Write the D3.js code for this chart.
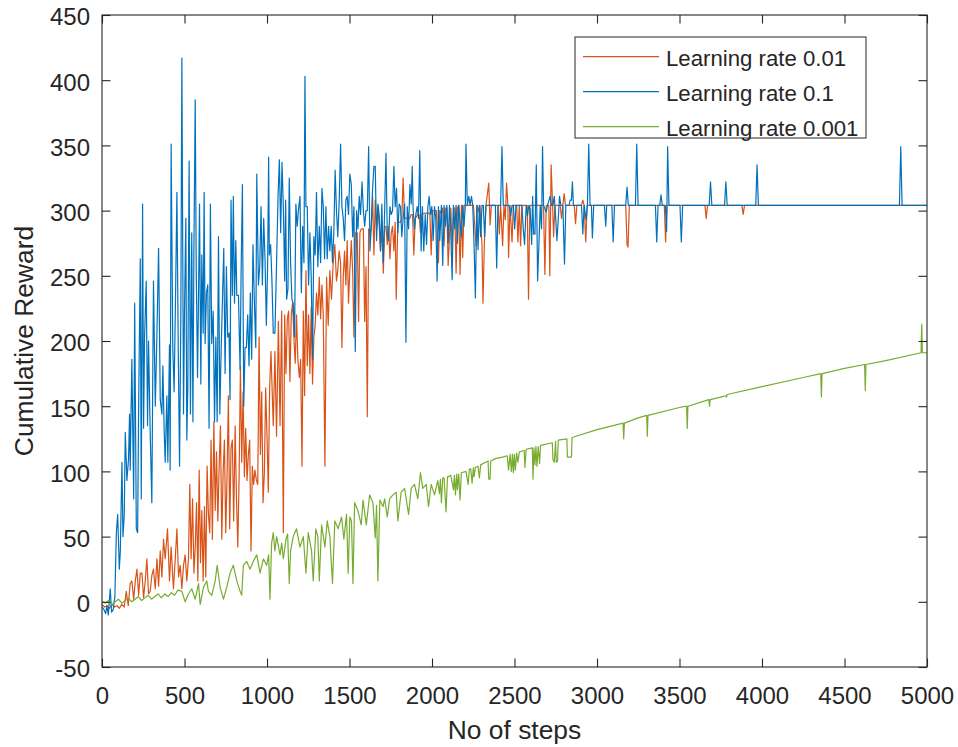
<!DOCTYPE html>
<html>
<head>
<meta charset="utf-8">
<script src="https://cdn.jsdelivr.net/npm/d3@7"></script>
<style>
  body { margin: 0; background: #ffffff; }
  svg { display: block; }
  text { font-family: "Liberation Sans", Arial, Helvetica, sans-serif; fill: #262626; }
</style>
</head>
<body>
<svg id="chart" width="958" height="747"></svg>
<script>
// Legend entries, in plotting order
const seriesLabels = ["Learning rate 0.01", "Learning rate 0.1", "Learning rate 0.001"];
const seriesColors = ["#D95319", "#0072BD", "#77AC30"];

const xTicks = [0, 500, 1000, 1500, 2000, 2500, 3000, 3500, 4000, 4500, 5000];
const yTicks = [-50, 0, 50, 100, 150, 200, 250, 300, 350, 400, 450];

// Cumulative reward per training step: [step, reward]
const rewardLr001 = [
  [0,-2],[15,-4],[30,-3],[45,-5],[60,-2],[75,-4],[90,-3],[105,-5],[120,-2],[135,-4],[147,8],[159,-3],[171,14],[181,16],[192,2],[202,16],[212,25],[222,5],[232,22],[242,22],[252,3],[262,16],[272,33],[282,6],[292,8],[302,20],[312,25],[323,10],[333,33],[343,12],[353,39],[363,19],[373,48],[383,33],[397,56],[409,16],[419,42],[433,10],[444,33],[454,56],[464,19],[474,28],[484,10],[494,28],[504,36],[514,16],[524,33],[532,90],[540,33],[549,79],[557,22],[565,42],[573,76],[581,16],[589,101],[597,30],[605,70],[613,16],[621,73],[629,19],[637,104],[645,67],[653,53],[661,124],[669,48],[678,138],[686,70],[694,115],[702,62],[710,104],[718,135],[726,48],[734,99],[742,124],[750,53],[758,96],[766,158],[774,56],[782,118],[790,124],[798,62],[807,135],[815,79],[823,42],[831,96],[839,181],[847,107],[855,161],[863,96],[871,133],[879,93],[887,113],[895,124],[903,39],[911,104],[919,90],[927,101],[936,93],[944,90],[952,203],[960,113],[968,161],[976,76],[984,99],[992,164],[1000,127],[1008,84],[1016,164],[1024,192],
  [1038,135],[1048,192],[1058,127],[1069,215],[1079,135],[1089,223],[1099,53],[1107,220],[1115,175],[1123,217],[1131,223],[1139,169],[1147,220],[1155,229],[1163,203],[1171,183],[1179,220],[1187,186],[1196,172],[1204,186],[1212,104],[1220,223],[1228,158],[1236,254],[1244,181],[1252,220],[1260,175],[1268,226],[1276,167],[1284,203],[1292,212],[1300,237],[1308,220],[1317,249],[1325,217],[1333,243],[1341,220],[1351,104],[1361,249],[1371,212],[1381,254],[1391,232],[1401,260],[1411,274],[1421,246],[1429,254],[1437,269],[1446,260],[1454,195],[1462,249],[1470,269],[1478,243],[1486,277],[1494,229],[1502,254],[1511,277],
  [1519,254],[1527,203],[1535,283],[1547,283],[1555,215],[1563,283],[1571,286],[1584,286],[1592,215],[1600,257],[1608,142],[1616,286],[1624,283],[1632,286],[1640,311],[1648,266],[1656,308],[1664,286],[1672,303],[1680,288],[1688,269],[1696,288],[1705,252],[1713,288],[1721,288],[1729,274],[1737,288],[1745,263],[1753,283],[1761,288],[1769,269],[1777,291],[1783,232],[1793,291],[1809,291],[1817,294],[1825,325],[1834,294],[1850,294],[1866,294],[1874,297],[1882,297],[1890,266],[1898,294],[1914,297],[1922,297],[1930,283],[1938,297],[1955,298],[1987,298],[1995,266],[2003,300],[2027,300],[2039,260],[2047,300],
  [2057,298],[2065,302],[2073,273],[2081,302],[2090,302],[2098,258],[2106,280],[2114,302],[2122,270],[2130,302],[2138,302],[2146,252],[2154,302],[2162,304],[2170,251],[2178,304],[2186,264],[2194,304],[2251,304],[2267,273],[2275,304],[2283,299],[2291,304],[2303,273],[2309,229],[2317,273],[2327,304],[2344,321],[2352,289],[2360,304],[2400,304],[2408,282],[2416,304],[2428,273],[2436,304],[2444,293],[2452,321],[2460,304],[2464,264],[2473,304],[2485,276],[2493,304],[2513,304],[2521,276],[2529,304],[2537,273],[2545,304],[2577,304],[2585,232],[2593,304],[2676,304],[2684,251],[2692,304],[2708,304],[2714,250],[2722,335],[2731,304],[2737,280],[2745,304],[2777,304],[2785,294],[2793,304],[2801,313],[2809,304],[2862,304],[2870,290],[2878,304],[2906,304],[2914,308],[2922,304],[2932,276],[2940,304],[3174,304],[3182,274],[3188,272],[3196,304],[3408,304],[3416,276],[3424,304],[3654,304],[3662,294],[3670,304],[3878,304],[3886,297],[3894,304],[5000,304]
];

const rewardLr01 = [
  [0,-4],[12,-6],[22,-9],[30,-3],[38,-10],[50,10],[58,-8],[68,-6],[78,4],
  [87,53],[95,67],[105,25],[111,39],[121,107],[127,50],[135,67],[141,130],[151,93],[161,110],[167,144],[171,101],[181,186],[192,79],[198,229],[208,56],[216,53],[222,150],[232,263],[238,79],[246,305],[252,133],[258,203],[268,246],[276,135],[282,200],[292,130],[302,76],[312,246],[323,150],[333,206],[343,271],[353,155],[363,144],[369,181],[377,130],[383,107],[393,158],[399,107],[409,197],[413,101],[419,351],[429,195],[437,161],[446,237],[454,314],[462,195],[470,104],[478,223],[484,417],
  [494,144],[500,223],[508,294],[514,124],[520,164],[528,338],[536,144],[544,283],[551,138],[557,269],[565,385],[571,257],[579,172],[585,235],[591,305],[599,167],[605,266],[613,206],[619,314],[625,198],[633,237],[641,243],[649,133],[657,305],[665,198],[674,223],[682,138],[690,203],[698,138],[706,280],[714,144],[722,192],[730,232],[738,271],[746,175],[754,257],[762,203],[770,206],[776,155],[782,308],[790,235],[796,311],[803,229],[811,277],[817,235],[827,235],[837,178],[843,252],[851,320],[859,150],[867,195],[875,195],[883,220],[891,181],[899,237],[907,186],[915,274],[923,232],[932,195],[938,328],[948,243],[956,257],[964,303],[972,243],[980,294],[988,263],[996,212],[1004,260],[1010,341],
  [1014,266],[1022,274],[1030,246],[1038,206],[1048,206],[1058,260],[1067,311],[1075,339],[1083,283],[1091,337],[1099,303],[1107,246],[1113,308],[1119,232],[1127,240],[1135,325],[1143,260],[1151,232],[1159,229],[1167,203],[1175,305],[1183,288],[1190,300],[1200,311],[1208,237],[1216,288],[1224,260],[1230,403],[1236,303],[1244,303],[1252,243],[1260,283],[1268,249],[1276,186],[1284,280],[1292,266],[1300,314],[1308,257],[1317,288],[1325,260],[1333,317],[1341,303],[1349,263],[1357,303],[1365,263],[1373,288],[1381,269],[1389,288],[1397,260],[1405,283],[1413,331],[1421,300],[1429,280],[1437,305],[1446,351],[1454,303],[1462,294],[1470,277],[1478,308],[1486,311],[1494,297],[1502,328],[1511,320],
  [1519,280],[1527,303],[1535,192],[1543,300],[1551,286],[1559,311],[1567,297],[1576,322],[1584,300],[1592,288],[1600,300],[1608,300],[1616,349],[1624,269],[1632,288],[1640,317],[1648,334],[1656,334],[1664,277],[1672,305],[1680,297],[1688,269],[1696,305],[1705,260],[1713,300],[1721,344],[1729,283],[1737,277],[1745,303],[1753,297],[1761,300],[1769,334],[1777,303],[1785,317],[1793,283],[1801,305],[1809,303],[1817,280],[1825,294],[1834,305],[1842,199],[1850,303],[1858,286],[1866,320],[1874,305],[1880,334],[1886,300],[1894,286],[1902,297],[1910,303],[1918,294],[1926,346],[1934,269],[1942,303],[1950,269],[1959,297],[1967,274],[1975,303],[1983,311],[1991,297],[1999,303],[2007,277],[2015,303],[2023,294],[2031,246],[2039,303],[2047,277],
  [2057,304],[2065,258],[2073,304],[2081,288],[2090,304],[2098,275],[2106,304],[2114,283],[2122,247],[2130,304],[2138,286],[2146,304],[2154,275],[2162,304],[2170,291],[2178,280],[2186,304],[2194,288],[2202,304],[2206,351],[2214,304],[2223,311],[2231,304],[2239,311],[2247,304],[2255,273],[2263,233],[2271,304],[2279,270],[2287,304],[2295,280],[2303,304],[2311,304],[2319,280],[2327,304],[2384,304],[2392,256],[2400,304],[2416,304],[2424,349],[2432,304],[2468,304],[2477,296],[2485,304],[2493,304],[2501,286],[2509,304],[2545,304],[2553,286],[2561,274],
  [2571,304],[2579,296],[2587,304],[2595,301],[2604,274],[2610,311],[2616,282],[2624,282],[2632,335],[2640,246],[2648,274],[2656,304],[2664,286],[2670,349],[2676,304],[2692,299],[2700,304],[2716,311],[2724,304],[2733,304],[2741,311],[2749,296],[2757,277],[2765,293],[2773,311],[2781,304],[2793,304],[2803,259],[2811,304],[2831,304],[2837,308],[2845,308],[2851,322],[2857,304],[2906,304],[2914,282],[2922,304],[2934,293],[2942,304],[2950,351],[2958,304],[2966,304],[2972,279],[2980,304],[3045,304],[3053,288],[3059,304],[3090,304],[3098,276],[3106,304],[3174,304],[3182,318],[3190,304],[3233,304],[3241,351],[3249,304],[3354,304],[3362,276],[3370,304],[3380,304],[3388,312],[3396,304],[3414,304],[3422,284],[3428,349],[3436,304],[3503,304],[3511,276],[3519,304],[3680,304],[3688,322],[3696,304],[3773,304],[3781,322],[3789,304],[3962,304],[3970,335],[3978,304],[4833,304],[4841,349],[4849,304],[5000,304]
];

const rewardLr0001 = [
  [0,0],[20,-1],[40,1],[60,-2],[80,0],[100,2],[120,-1],[140,1],[160,3],[180,0],[200,2],[220,4],[240,1],[260,3],[280,5],[300,2],[320,4],[340,6],[360,3],[380,6],[400,4],[420,7],[440,5],[460,9],[484,8],[504,0],[524,6],[544,10],[565,2],[585,14],[595,-2],[615,11],[635,16],[645,8],[665,5],[686,16],[698,28],[716,11],[736,2],[756,11],[776,22],[796,28],[817,16],[837,8],[847,5],[857,28],[877,31],[897,25],[917,31],[938,36],[958,22],[978,33],[998,28],[1010,36],[1018,2],[1028,45],[1038,53],[1048,39],[1058,50],[1079,36],[1089,45],[1099,33],[1115,48],[1125,52],[1135,14],[1143,39],[1159,50],[1179,56],[1200,42],[1220,50],[1236,22],[1250,53],[1270,39],[1280,16],[1296,56],[1308,50],[1317,16],[1331,59],[1351,42],[1365,62],[1381,50],[1397,14],[1411,62],[1431,56],[1452,65],[1466,48],[1482,67],[1492,22],[1502,65],[1512,62],[1521,14],[1531,76],[1551,70],[1571,59],[1582,78],[1602,59],[1622,82],[1642,76],[1656,49],[1664,74],[1672,16],[1684,78],[1703,73],[1713,79],[1729,65],[1743,79],[1763,82],[1783,84],[1793,62],[1813,84],[1834,87],[1858,67],[1874,87],[1894,90],[1914,79],[1930,99],[1944,87],[1965,90],[1979,73],[1995,90],[2015,82],[2035,93],[2045,83],[2051,94],[2057,76],[2065,95],[2073,95],[2085,69],[2094,96],[2102,96],[2114,97],[2130,86],[2136,97],[2142,82],[2150,98],[2154,86],[2162,98],[2170,78],[2178,99],[2206,100],[2219,90],[2227,102],[2235,102],[2243,91],[2251,103],[2255,96],[2263,103],[2279,104],[2287,95],[2295,105],[2340,108],[2344,94],[2352,94],[2356,108],[2388,110],[2428,111],[2456,112],[2464,101],[2473,113],[2481,100],[2487,113],[2493,99],[2499,113],[2505,101],[2513,114],[2521,107],[2529,115],[2559,116],[2563,103],[2571,117],[2608,118],[2612,94],[2618,118],[2624,105],[2630,119],[2636,104],[2644,119],[2652,106],[2658,120],[2729,122],[2733,109],[2741,107],[2749,123],[2753,107],[2761,108],[2765,124],[2817,125],[2821,111],[2845,111],[2849,126],[3000,132],[3158,137],[3162,125],[3166,137],[3250,141],[3301,143],[3305,127],[3309,143],[3500,149],[3543,150],[3547,133],[3551,150],[3678,155],[3682,150],[3686,155],[3750,157],[3781,158],[3785,157],[3789,159],[4000,165],[4250,172],[4356,175],[4360,157],[4364,175],[4500,179],[4622,182],[4626,162],[4630,182],[4750,185],[4964,191],[4968,213],[4972,191],[5000,191]
];

const seriesData = [rewardLr001, rewardLr01, rewardLr0001];

const svg = d3.select("#chart");
const plot = { left: 102, right: 927, top: 15, bottom: 667 };
const ink = "#262626";

svg.append("rect").attr("width", 958).attr("height", 747).attr("fill", "#ffffff");

const x = d3.scaleLinear().domain([0, 5000]).range([plot.left, plot.right]);
const y = d3.scaleLinear().domain([-50, 450]).range([plot.bottom, plot.top]);

// Data lines
const line = d3.line().x(d => x(d[0])).y(d => y(d[1]));
svg.append("g")
  .selectAll("path")
  .data(seriesData)
  .join("path")
  .attr("d", line)
  .attr("fill", "none")
  .attr("stroke", (d, i) => seriesColors[i])
  .attr("stroke-width", 1.2)
  .attr("stroke-linejoin", "round");

// Axes: ticks point inward on all four sides
const tickLen = 8.5;
const plainNumber = d => String(d);
function styleAxis(g) {
  g.select(".domain").remove();
  g.selectAll(".tick line").attr("stroke", ink).attr("stroke-width", 1.1);
  g.selectAll(".tick text").attr("font-size", 24).attr("fill", ink)
    .attr("font-family", '"Liberation Sans", Arial, Helvetica, sans-serif');
}

svg.append("g")
  .attr("transform", `translate(0,${plot.bottom})`)
  .call(d3.axisBottom(x).tickValues(xTicks).tickSizeInner(-tickLen).tickSizeOuter(0).tickPadding(20).tickFormat(plainNumber))
  .call(styleAxis);

svg.append("g")
  .attr("transform", `translate(0,${plot.top})`)
  .call(d3.axisTop(x).tickValues(xTicks).tickSizeInner(-tickLen).tickSizeOuter(0).tickFormat(""))
  .call(styleAxis);

svg.append("g")
  .attr("transform", `translate(${plot.left},0)`)
  .call(d3.axisLeft(y).tickValues(yTicks).tickSizeInner(-tickLen).tickSizeOuter(0).tickPadding(12).tickFormat(plainNumber))
  .call(styleAxis)
  .call(g => g.selectAll(".tick text").attr("dy", "0.41em"));

svg.append("g")
  .attr("transform", `translate(${plot.right},0)`)
  .call(d3.axisRight(y).tickValues(yTicks).tickSizeInner(-tickLen).tickSizeOuter(0).tickFormat(""))
  .call(styleAxis);

// Box
svg.append("rect")
  .attr("x", plot.left).attr("y", plot.top)
  .attr("width", plot.right - plot.left).attr("height", plot.bottom - plot.top)
  .attr("fill", "none").attr("stroke", ink).attr("stroke-width", 1.1);

// Axis titles
svg.append("text")
  .attr("x", (plot.left + plot.right) / 2).attr("y", 739)
  .attr("text-anchor", "middle").attr("font-size", 26.4)
  .text("No of steps");

svg.append("text")
  .attr("transform", `translate(33,${(plot.top + plot.bottom) / 2}) rotate(-90)`)
  .attr("text-anchor", "middle").attr("font-size", 26.4)
  .text("Cumulative Reward");

// Legend
const legend = svg.append("g").attr("transform", "translate(575,37)");
legend.append("rect")
  .attr("width", 291).attr("height", 101)
  .attr("fill", "#ffffff").attr("stroke", ink).attr("stroke-width", 1);
const rows = legend.selectAll("g.row")
  .data(seriesLabels)
  .join("g")
  .attr("class", "row")
  .attr("transform", (d, i) => `translate(0,${19.7 + i * 35})`);
rows.append("line")
  .attr("x1", 8).attr("x2", 84)
  .attr("stroke", (d, i) => seriesColors[i]).attr("stroke-width", 1.2);
rows.append("text")
  .attr("x", 91).attr("dy", "0.41em")
  .attr("font-size", 22.2)
  .text(d => d);
</script>
</body>
</html>
